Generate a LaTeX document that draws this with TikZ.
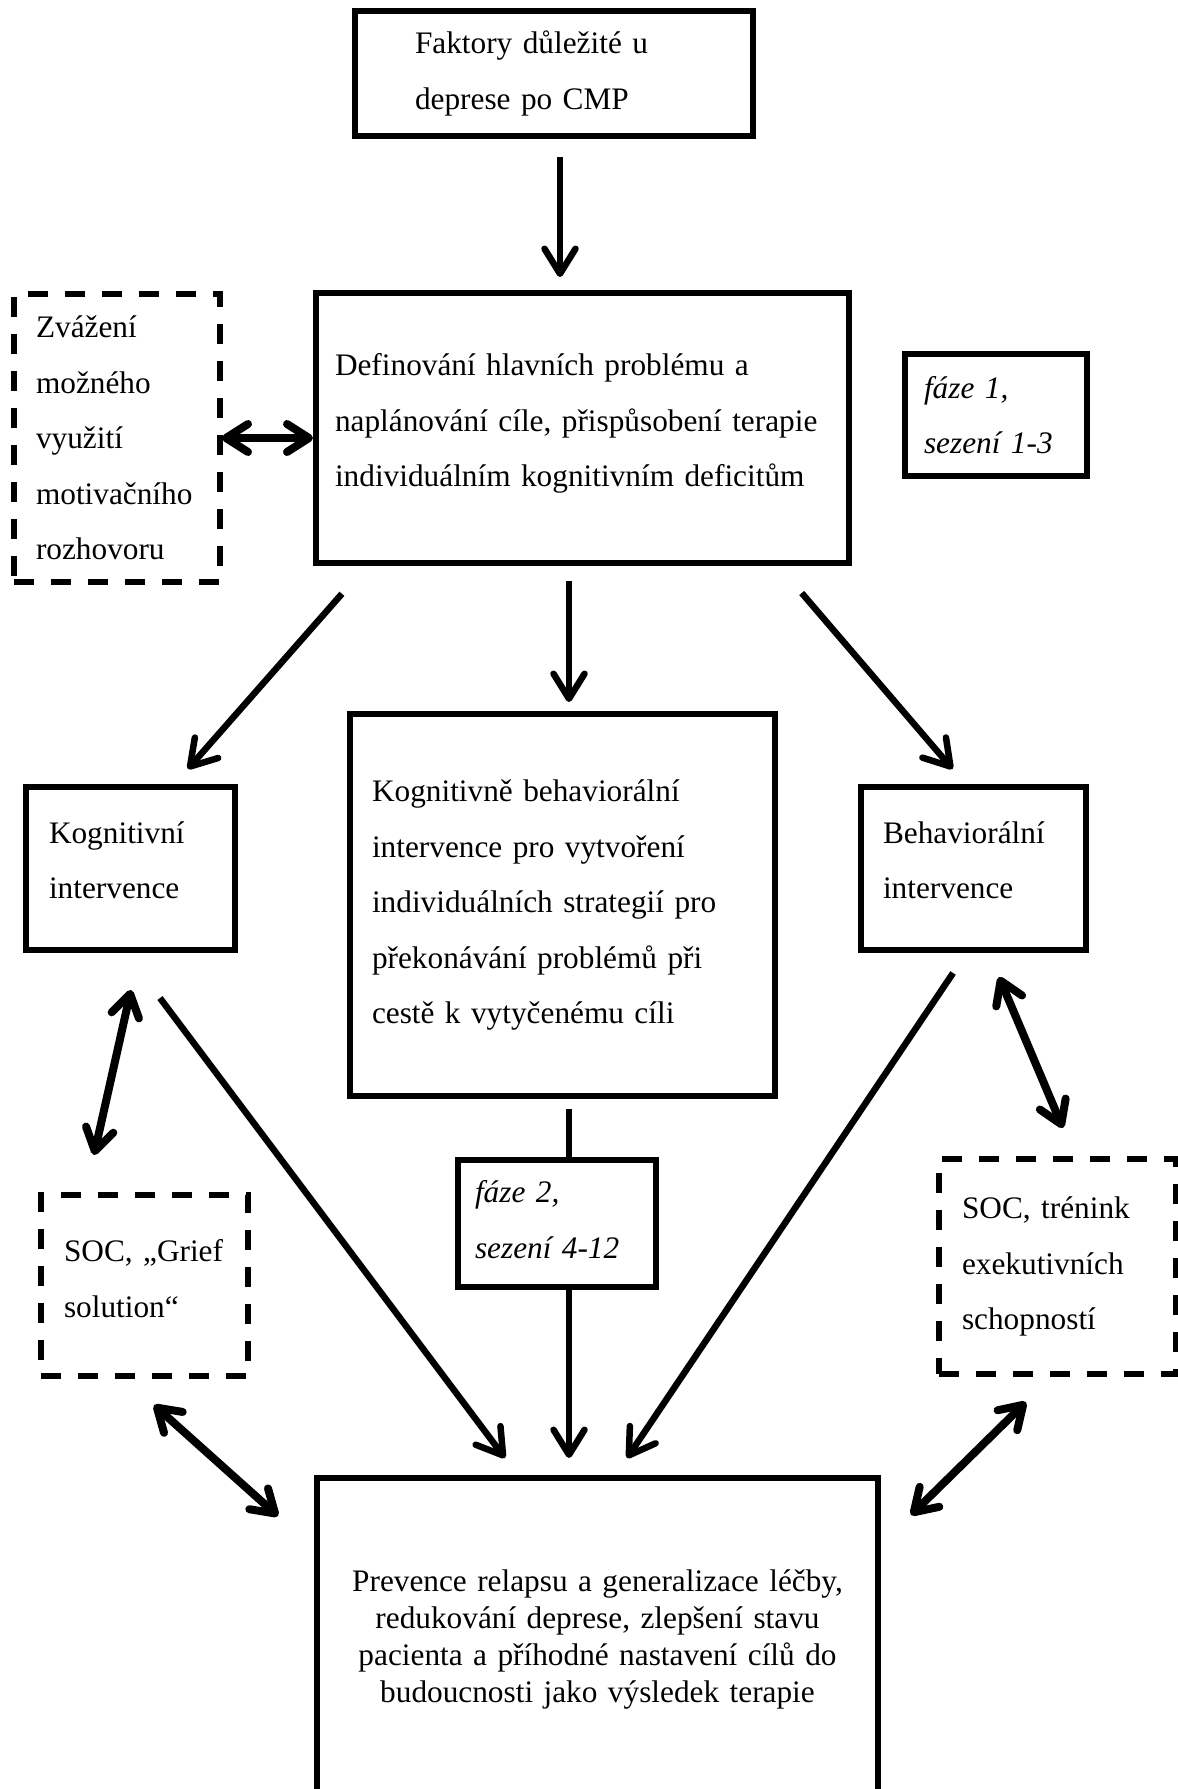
\documentclass[tikz,border=0pt]{standalone}
\usepackage{fontspec}
\setmainfont{Liberation Serif}
\usetikzlibrary{arrows.meta, positioning}

\newcommand\bodyfont{\fontsize{31.3}{55.5}\selectfont}
\newcommand\tightfont{\fontsize{31.3}{37}\selectfont}

\begin{document}
\begin{tikzpicture}[x=1pt, y=-1pt,
  box/.style={draw, line width=6pt, align=left, font=\bodyfont, inner ysep=0pt,
              outer sep=0pt, anchor=north west},
  dbox/.style={box, line width=5.5pt, dash pattern=on 20pt off 17pt},
  phase/.style={box, font=\bodyfont\itshape},
  arr/.style={-{Straight Barb[length=25pt, width=31pt, round]}, line width=6.5pt},
  darr/.style={{Straight Barb[length=22pt, width=28pt, round]}-{Straight Barb[length=22pt, width=28pt, round]},
               line width=8pt},
  link/.style={line width=6.5pt}]

  \useasboundingbox (0,0) rectangle (1178,1789);
  \clip (0,0) rectangle (1178,1789);

  % upper part
  \node[box, text width=278pt, inner xsep=60pt, minimum height=125pt] (faktory) at (355,11)
    {Faktory důležité u\\deprese po CMP};
  \node[box, text width=495pt, inner xsep=19pt, minimum height=270pt] (define) at (316,293)
    {Definování hlavních problému a\\\mbox{naplánování cíle, přispůsobení terapie}\\individuálním kognitivním deficitům\\[-39.5pt]\mbox{}};
  \node[dbox, text width=162pt, inner xsep=22pt, minimum height=288pt] (zvazeni) at (14,294)
    {Zvážení\\možného\\využití\\motivačního\\rozhovoru};
  \node[phase, text width=144pt, inner xsep=19pt, minimum height=122pt] (faze1) at (905,354)
    {fáze 1,\\sezení 1-3};

  % three interventions
  \node[box, text width=163pt, inner xsep=23pt, minimum height=163pt] (kog) at (26,787)
    {Kognitivní\\intervence\\[-38.5pt]\mbox{}};
  \node[box, text width=381pt, inner xsep=22pt, minimum height=382pt] (kbt) at (350,714)
    {Kognitivně behaviorální\\intervence pro vytvoření\\individuálních strategií pro\\překonávání problémů při\\cestě k vytyčenému cíli};
  \node[box, text width=181pt, inner xsep=22pt, minimum height=163pt] (beh) at (861,787)
    {Behaviorální\\intervence\\[-38.5pt]\mbox{}};

  % lower part
  \node[phase, text width=164pt, inner xsep=17pt, minimum height=127pt] (faze2) at (458,1160)
    {fáze 2,\\sezení 4-12\\[-47.5pt]\mbox{}};
  \node[dbox, text width=161pt, inner xsep=23pt, minimum height=181pt] (grief) at (41,1195)
    {\mbox{SOC, „Grief}\\solution“\\[-41.5pt]\mbox{}};
  \node[dbox, text width=191pt, inner xsep=23pt, minimum height=215pt] (trenink) at (939,1159)
    {SOC, trénink\\exekutivních\\schopností};
  \node[box, align=center, font=\tightfont, text width=521pt, inner xsep=20pt, minimum height=322pt]
    (prevence) at (317,1478)
    {Prevence relapsu a generalizace léčby,\\redukování deprese, zlepšení stavu\\pacienta a příhodné nastavení cílů do\\budoucnosti jako výsledek terapie};

  \draw[arr, shorten <=21pt, shorten >=16pt] ([xshift=6pt]faktory.south) -- ([xshift=6pt]faktory.south |- define.north);
  \draw[darr, shorten <=2pt, shorten >=3pt] (zvazeni.east) -- (zvazeni.east -| define.west);
  \draw[arr, shorten <=41pt, shorten >=24pt] ([xshift=53pt]define.south west) -- ([xshift=146pt]kog.north west);
  \draw[arr, shorten <=18pt, shorten >=12pt] ([xshift=6.5pt]kbt.north |- define.south) -- ([xshift=6.5pt]kbt.north);
  \draw[arr, shorten <=39.5pt, shorten >=23.7pt] ([xshift=-73pt]define.south east) -- ([xshift=107pt]beh.north west);

  \draw[darr, shorten <=41pt, shorten >=41pt] ([xshift=114pt]kog.south west) -- ([xshift=44pt]grief.north west);
  \draw[arr, shorten <=60pt, shorten >=25pt] ([xshift=98pt]kog.south west) -- ([xshift=203pt]prevence.north west);
  \draw[link, shorten <=13pt] ([xshift=12pt]faze2.north |- kbt.south) -- ([xshift=12pt]faze2.north);
  \draw[arr, shorten >=20pt] ([xshift=12pt]faze2.south) -- ([xshift=12pt]faze2.south |- prevence.north);
  \draw[arr, shorten <=27.7pt, shorten >=24pt] ([xshift=107.5pt]beh.south west) -- ([xshift=296.6pt]prevence.north west);
  \draw[darr, shorten <=29.3pt, shorten >=33.7pt] ([xshift=126.6pt]beh.south west) -- ([xshift=137pt]trenink.north west);

  \draw[darr, shorten <=43.5pt, shorten >=52.3pt] ([xshift=80.6pt]grief.south west) -- ([yshift=-73pt]prevence.north west);
  \draw[darr, shorten <=40pt, shorten >=46.2pt] ([xshift=115.5pt]trenink.south west) -- ([yshift=-69.4pt]prevence.north east);
\end{tikzpicture}
\end{document}
